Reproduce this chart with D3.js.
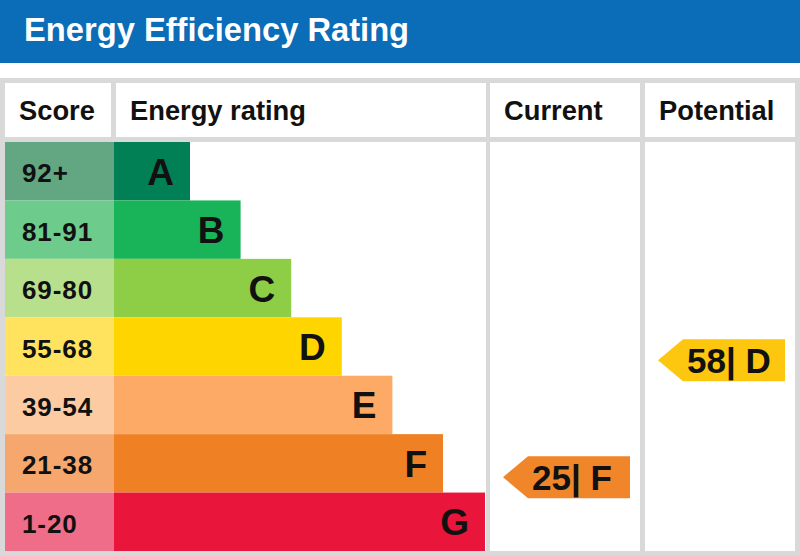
<!DOCTYPE html>
<html>
<head>
<meta charset="utf-8">
<script src="https://cdn.jsdelivr.net/npm/d3@7"></script>
<style>
  html, body { margin: 0; padding: 0; background: #ffffff; }
  svg { display: block; }
  text { font-family: "Liberation Sans", Arial, Helvetica, sans-serif; font-weight: bold; }
</style>
</head>
<body>
<div id="chart"></div>
<script>
// ---- data ----
const title = "Energy Efficiency Rating";
const columns = ["Score", "Energy rating", "Current", "Potential"];
const grades = ["A", "B", "C", "D", "E", "F", "G"];
const scoreLabels = ["92+", "81-91", "69-80", "55-68", "39-54", "21-38", "1-20"];
const scoreMin = [92, 81, 69, 55, 39, 21, 1];
const scoreMax = [100, 91, 80, 68, 54, 38, 20];
const barColors = ["#008054", "#19b459", "#8dce46", "#ffd500", "#fcaa65", "#ef8023", "#e9153b"];
const scoreColors = ["#62a682", "#6dcb8b", "#b8e08c", "#ffe35f", "#fdcba1", "#f5a76d", "#ef6d88"];
const currentScore = 25;
const currentGrade = "F";
const potentialScore = 58;
const potentialGrade = "D";
const arrowColors = { current: "#f0852a", potential: "#fdc70f" };

// ---- layout ----
const W = 800, H = 556;
const svg = d3.select("#chart").append("svg").attr("width", W).attr("height", H);

const gray = "#d9d9d9";
// header band
svg.append("rect").attr("x", 0).attr("y", 0).attr("width", W).attr("height", 63).attr("fill", "#0b6cb8");
svg.append("text").attr("x", 24).attr("y", 41).attr("fill", "#ffffff")
  .attr("font-size", 32.7).text(title);

// table background
const tTop = 78;
svg.append("rect").attr("x", 0).attr("y", tTop).attr("width", W).attr("height", H - tTop).attr("fill", gray);

// column geometry
const colX = [5, 116, 490, 645];
const colR = [111, 486, 640, 795];
const headTop = 83, headBot = 137, bodyTop = 142, bodyBot = 551;

// header cells
columns.forEach((c, i) => {
  svg.append("rect").attr("x", colX[i]).attr("y", headTop)
    .attr("width", colR[i] - colX[i]).attr("height", headBot - headTop).attr("fill", "#ffffff");
  svg.append("text").attr("x", colX[i] + 14).attr("y", 120)
    .attr("font-size", 27.3).attr("fill", "#111").text(c);
});

// body cells: score+rating share one cell, then current, potential
[[colX[0], colR[1]], [colX[2], colR[2]], [colX[3], colR[3]]].forEach(([a, b]) => {
  svg.append("rect").attr("x", a).attr("y", bodyTop).attr("width", b - a)
    .attr("height", bodyBot - bodyTop).attr("fill", "#ffffff");
});

// scales
const y = d3.scaleBand().domain(grades).range([bodyTop, bodyBot]).paddingInner(0);
const barStart = 114;
const xEnd = d3.scaleLinear().domain([0, 5]).range([190, 443]);
const barRight = colR[1] - 1;

const rows = svg.append("g").selectAll("g").data(grades).join("g");
rows.append("rect")
  .attr("x", colX[0]).attr("y", d => y(d))
  .attr("width", barStart - colX[0]).attr("height", y.bandwidth())
  .attr("fill", (d, i) => scoreColors[i]);
rows.append("rect")
  .attr("x", barStart).attr("y", d => y(d))
  .attr("width", (d, i) => Math.min(xEnd(i), barRight) - barStart).attr("height", y.bandwidth())
  .attr("fill", (d, i) => barColors[i]);
rows.append("text")
  .attr("x", 22).attr("y", d => y(d) + y.bandwidth() / 2 + 11)
  .attr("font-size", 26).attr("letter-spacing", 0.9).attr("fill", "#111")
  .text((d, i) => scoreLabels[i]);
rows.append("text")
  .attr("text-anchor", "end")
  .attr("x", (d, i) => Math.min(xEnd(i), barRight) - 16)
  .attr("y", d => y(d) + y.bandwidth() / 2 + 13.5)
  .attr("font-size", 37).attr("fill", "#111")
  .text(d => d);

// score -> vertical position (band centres at mid scores)
const mids = grades.map((g, i) => (scoreMin[i] + scoreMax[i]) / 2);
const yScore = d3.scaleLinear().domain(mids).range(grades.map(g => y(g) + y.bandwidth() / 2));

function arrow(colIdx, score, grade, color) {
  const tip = colX[colIdx] + 13;
  const right = colR[colIdx] - 10;
  const h = 42, tipLen = 25;
  const cy = yScore(score);
  const pts = [[tip, cy], [tip + tipLen, cy - h / 2], [right, cy - h / 2], [right, cy + h / 2], [tip + tipLen, cy + h / 2]];
  svg.append("path").attr("d", d3.line()(pts) + "Z").attr("fill", color);
  svg.append("text").attr("x", tip + 29).attr("y", cy + 12.5)
    .attr("font-size", 35).attr("fill", "#111").text(score + "| " + grade);
}
arrow(2, currentScore, currentGrade, arrowColors.current);
arrow(3, potentialScore, potentialGrade, arrowColors.potential);
</script>
</body>
</html>
